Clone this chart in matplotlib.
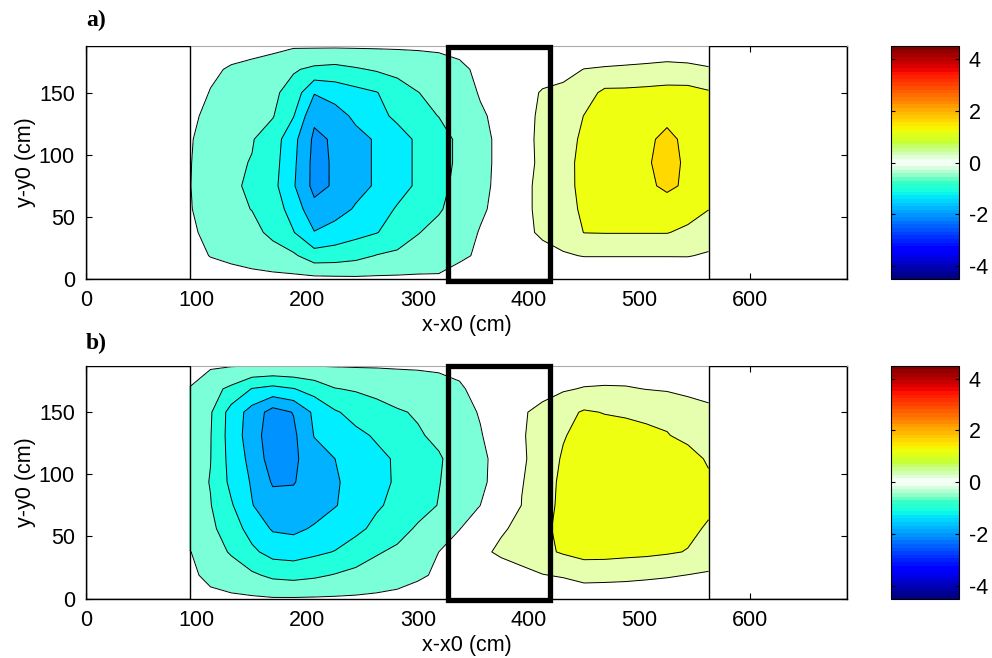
import numpy as np
import matplotlib.pyplot as plt
from matplotlib.colors import ListedColormap, Normalize
from matplotlib.cm import ScalarMappable
from matplotlib.patches import Rectangle

plt.rcParams['font.family'] = ['Liberation Sans', 'DejaVu Sans']
plt.rcParams['axes.unicode_minus'] = False

# measurement grid (cm)
x_cm = np.arange(93.75, 562.6, 18.75)
y_cm = np.arange(0.0, 187.6, 18.75)

# panel a) values, one row per y (bottom to top)
za_rows = [
    [-0.1, -0.2, -0.28, -0.33, -0.36, -0.38, -0.38, -0.4, -0.42, -0.42, -0.42, -0.42, -0.44, -0.35, -0.28, -0.2, 0.0, 0.02, 0.05, 0.05, 0.05, 0.05, 0.05, 0.05, 0.1, 0.1],
    [-0.3, -0.52, -0.62, -0.72, -0.82, -0.92, -1.28, -1.25, -1.15, -0.98, -0.9, -0.8, -0.7, -0.56, -0.45, -0.3, 0.15, 0.4, 0.45, 0.52, 0.52, 0.52, 0.52, 0.52, 0.52, 0.45],
    [-0.4, -0.65, -0.78, -0.88, -1.1, -1.48, -1.98, -1.8, -1.65, -1.52, -1.3, -1.02, -0.85, -0.65, -0.48, -0.35, 0.42, 0.55, 0.72, 1.01, 1.02, 1.02, 1.02, 1.02, 0.9, 0.73],
    [-0.46, -0.78, -0.9, -1.01, -1.25, -1.7, -2.35, -2.2, -1.95, -1.75, -1.45, -1.2, -1.05, -0.8, -0.55, -0.4, 0.4, 0.6, 0.82, 1.08, 1.2, 1.25, 1.3, 1.3, 1.2, 1.01],
    [-0.48, -0.82, -0.92, -1.08, -1.35, -1.95, -2.65, -2.44, -2.15, -1.95, -1.7, -1.42, -1.15, -0.85, -0.58, -0.42, 0.38, 0.62, 0.85, 1.12, 1.3, 1.35, 1.42, 1.58, 1.43, 1.2],
    [-0.47, -0.8, -0.92, -1.02, -1.3, -1.9, -2.65, -2.44, -2.15, -1.95, -1.7, -1.42, -1.2, -0.9, -0.6, -0.42, 0.3, 0.62, 0.82, 1.15, 1.32, 1.38, 1.45, 1.65, 1.42, 1.3],
    [-0.45, -0.75, -0.85, -0.97, -1.25, -1.85, -2.6, -2.44, -2.15, -1.95, -1.7, -1.42, -1.2, -0.9, -0.6, -0.42, 0.33, 0.62, 0.78, 1.1, 1.3, 1.35, 1.42, 1.6, 1.4, 1.3],
    [-0.4, -0.62, -0.75, -0.85, -0.97, -1.48, -2.4, -2.2, -1.9, -1.65, -1.4, -1.15, -0.99, -0.8, -0.55, -0.4, 0.32, 0.6, 0.72, 1.01, 1.2, 1.25, 1.3, 1.4, 1.3, 1.2],
    [-0.3, -0.52, -0.65, -0.78, -0.9, -1.2, -1.97, -1.8, -1.65, -1.52, -1.25, -1.01, -0.85, -0.68, -0.47, -0.35, 0.28, 0.55, 0.62, 0.8, 1.1, 1.1, 1.12, 1.14, 1.15, 1.05],
    [-0.25, -0.42, -0.55, -0.62, -0.7, -0.95, -1.1, -1.15, -1.05, -0.95, -0.85, -0.75, -0.65, -0.55, -0.45, -0.3, 0.1, 0.25, 0.35, 0.51, 0.56, 0.6, 0.65, 0.71, 0.67, 0.56],
    [-0.1, -0.2, -0.3, -0.35, -0.4, -0.45, -0.44, -0.44, -0.44, -0.44, -0.44, -0.44, -0.44, -0.43, -0.35, -0.2, 0.0, 0.02, 0.05, 0.05, 0.05, 0.05, 0.05, 0.07, 0.05, 0.05],
]

# panel b) values
zb_rows = [
    [-0.15, -0.4, -0.42, -0.44, -0.47, -0.47, -0.46, -0.45, -0.44, -0.42, -0.4, -0.35, -0.25, -0.15, -0.05, 0.0, 0.0, 0.05, 0.08, 0.1, 0.1, 0.1, 0.1, 0.1, 0.1, 0.1],
    [-0.42, -0.6, -0.75, -0.92, -1.1, -1.15, -1.08, -0.97, -0.85, -0.75, -0.65, -0.55, -0.45, -0.2, 0.05, 0.25, 0.4, 0.48, 0.55, 0.7, 0.68, 0.65, 0.6, 0.55, 0.49, 0.44],
    [-0.48, -0.78, -1.05, -1.4, -1.68, -1.72, -1.6, -1.48, -1.3, -1.05, -0.9, -0.8, -0.5, -0.15, 0.4, 0.58, 0.65, 0.9, 1.05, 1.15, 1.15, 1.12, 1.1, 1.05, 0.98, 0.8],
    [-0.7, -0.9, -1.25, -1.7, -2.05, -2.1, -1.95, -1.8, -1.6, -1.4, -1.2, -0.93, -0.8, -0.52, -0.1, 0.45, 0.6, 0.92, 1.1, 1.25, 1.28, 1.28, 1.25, 1.2, 1.1, 0.95],
    [-0.75, -0.98, -1.45, -1.98, -2.3, -2.3, -2.2, -2.02, -1.85, -1.55, -1.4, -1.2, -0.98, -0.72, -0.5, -0.35, 0.52, 0.85, 1.1, 1.28, 1.35, 1.38, 1.38, 1.35, 1.25, 1.08],
    [-0.78, -1.02, -1.62, -2.05, -2.55, -2.53, -2.25, -2.05, -1.85, -1.62, -1.45, -1.22, -1.02, -0.78, -0.55, -0.4, 0.47, 0.8, 1.1, 1.28, 1.38, 1.4, 1.4, 1.35, 1.25, 1.07],
    [-0.78, -0.99, -1.68, -2.15, -2.75, -2.6, -2.2, -2.0, -1.8, -1.6, -1.45, -1.25, -1.05, -0.8, -0.56, -0.4, 0.42, 0.75, 1.05, 1.25, 1.3, 1.3, 1.25, 1.2, 1.15, 0.95],
    [-0.75, -0.98, -1.72, -2.25, -2.8, -2.6, -1.98, -1.8, -1.6, -1.45, -1.25, -1.05, -0.9, -0.7, -0.52, -0.35, 0.45, 0.72, 0.97, 1.15, 1.2, 1.15, 1.1, 1.02, 0.9, 0.78],
    [-0.7, -0.95, -1.7, -2.2, -2.7, -2.48, -1.9, -1.55, -1.35, -1.2, -1.05, -0.95, -0.8, -0.6, -0.48, -0.3, 0.45, 0.62, 0.85, 1.05, 0.98, 0.95, 0.9, 0.9, 0.7, 0.6],
    [-0.52, -0.85, -1.1, -1.52, -1.65, -1.52, -1.3, -1.02, -0.95, -0.85, -0.75, -0.68, -0.6, -0.52, -0.45, -0.3, 0.1, 0.35, 0.45, 0.53, 0.55, 0.54, 0.49, 0.45, 0.4, 0.35],
    [-0.3, -0.43, -0.47, -0.48, -0.49, -0.49, -0.48, -0.47, -0.46, -0.46, -0.455, -0.455, -0.455, -0.46, -0.3, -0.15, 0.0, 0.05, 0.1, 0.2, 0.22, 0.22, 0.2, 0.18, 0.15, 0.12],
]

line_levels = [-2.5, -2.0, -1.5, -1.0, -0.5, 0.5, 1.0, 1.5]
fill_levels = [-10] + line_levels + [10]
fill_colors = ['#0092ff', '#00b2ff', '#00eeff', '#22ffdc', '#7affd8',
               '#ffffff', '#e6ffae', '#eeff12', '#ffd900']

# jet with white around zero, for the colour bar
f = np.linspace(0, 1, 64)
v = -4.5 + 9 * f
base = plt.get_cmap('jet')(f)[:, :3]
w = np.clip(1 - np.abs(v) / 0.8, 0, 1)[:, None]
cbar_cmap = ListedColormap(base * (1 - w) + w)

fig = plt.figure(figsize=(9.92, 6.58), dpi=100)
fs = 15.5


def panel(bottom, z_rows, tag, tag_y):
    ax = fig.add_axes([0.0867, bottom, 0.767, 0.354])
    z = np.array(z_rows)
    ax.contourf(x_cm, y_cm, z, levels=fill_levels, colors=fill_colors, zorder=1)
    ax.contour(x_cm, y_cm, z, levels=line_levels, colors='k', linewidths=0.7,
               linestyles='solid', zorder=2)
    ax.set_axisbelow(True)
    ax.set_xlim(0, 687.5)
    ax.set_ylim(0, 187.5)
    ax.set_xticks(range(0, 700, 100))
    ax.set_yticks([0, 50, 100, 150])
    ax.tick_params(direction='in', top=True, right=True, length=4, labelsize=fs, pad=8)
    ax.spines['top'].set_color('#aaaaaa')
    for s in ['left', 'right', 'bottom']:
        ax.spines[s].set_linewidth(1.0)
    ax.add_patch(Rectangle((0, 0), 93.75, 187.5, fill=False, ec='k', lw=1.0, zorder=3))
    ax.add_patch(Rectangle((562.5, 0), 125, 187.5, fill=False, ec='k', lw=1.0, zorder=3))
    ax.add_patch(Rectangle((327, -1.5), 92, 188.5, fill=False, ec='k', lw=3.8,
                           zorder=4, clip_on=False, joinstyle='miter'))
    ax.set_xlabel('x-x0 (cm)', fontsize=fs, labelpad=3)
    ax.set_ylabel('y-y0 (cm)', fontsize=fs, labelpad=2)
    fig.text(0.0867, tag_y, tag, fontsize=17, fontweight='bold',
             family='Liberation Serif', ha='left', va='baseline')

    cax = fig.add_axes([0.898, bottom, 0.0686, 0.354])
    cb = fig.colorbar(ScalarMappable(norm=Normalize(-4.5, 4.5), cmap=cbar_cmap),
                      cax=cax, ticks=[-4, -2, 0, 2, 4])
    cb.outline.set_linewidth(0.8)
    cax.tick_params(direction='in', left=True, right=True, length=3, labelsize=fs, pad=7)
    return ax


panel(0.576, za_rows, 'a)', 0.961)
panel(0.0904, zb_rows, 'b)', 0.4696)

fig.savefig('out.png', dpi=100)
